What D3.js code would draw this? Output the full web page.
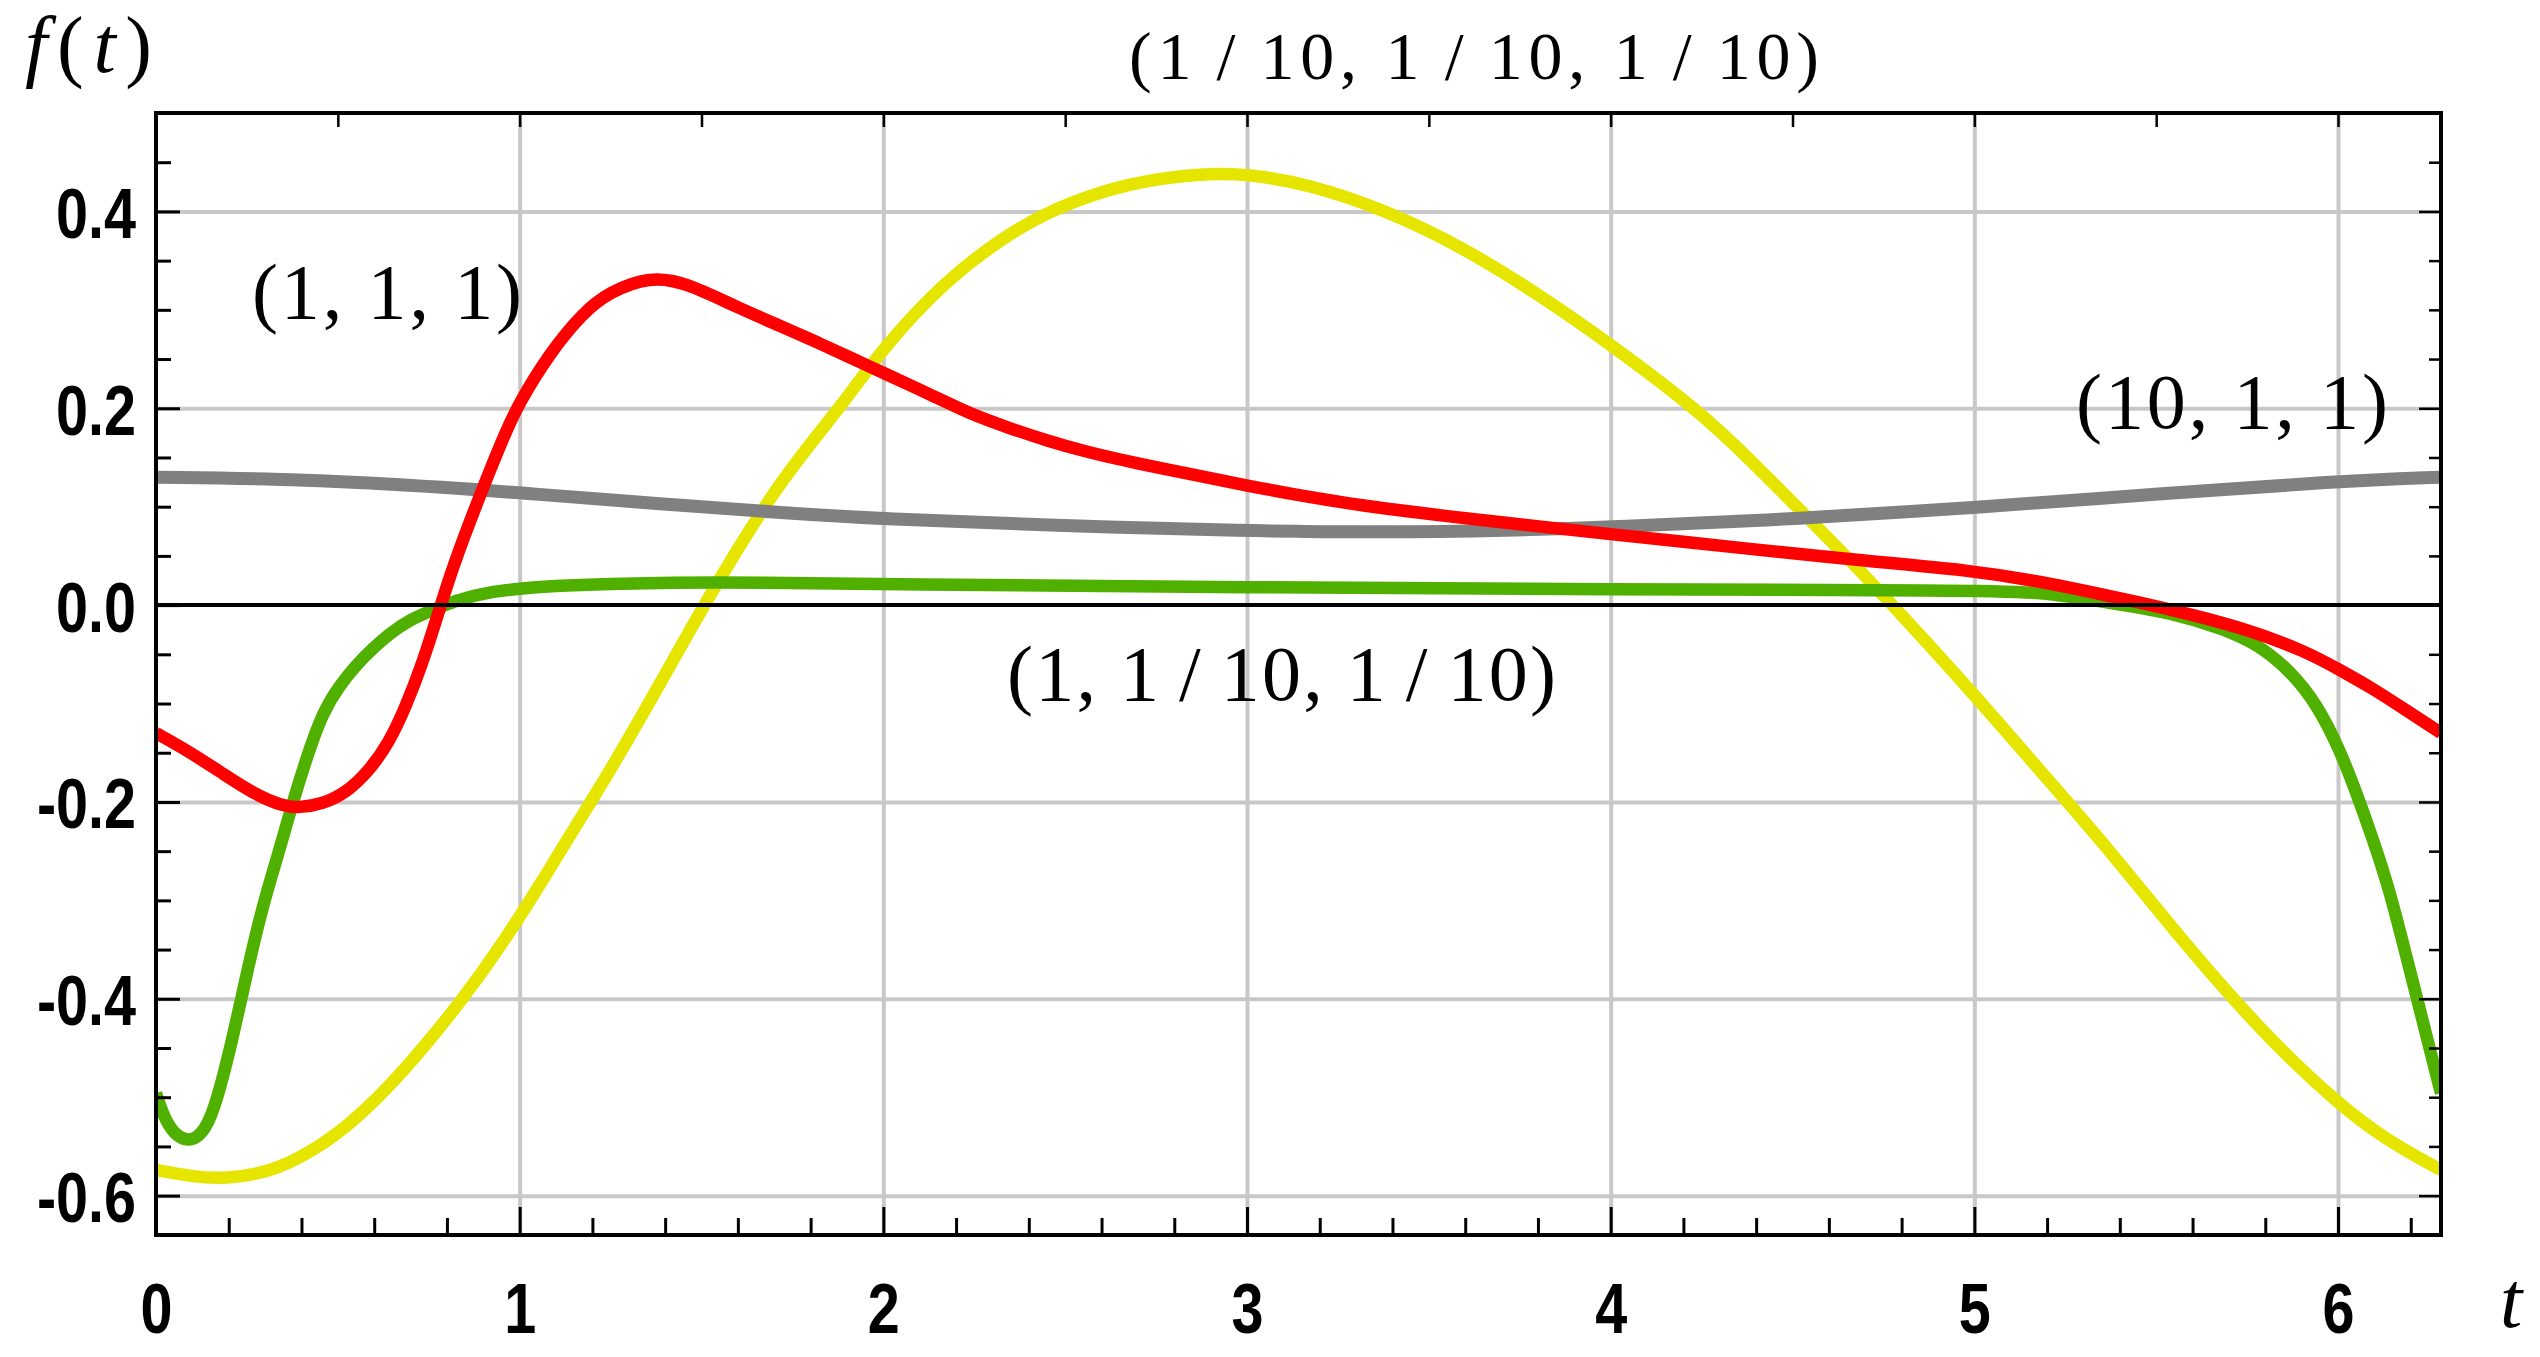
<!DOCTYPE html>
<html>
<head>
<meta charset="utf-8">
<script src="https://d3js.org/d3.v7.min.js"></script>
<style>
  body { margin: 0; background: white; }
  svg { display: block; background: white; }
  .tick-lbl text { font-family: 'Liberation Sans', Arial, sans-serif; font-weight: bold; font-size: 71px; fill: black; }
  .lbl { font-family: 'Liberation Serif', 'Times New Roman', serif; fill: black; }
</style>
</head>
<body>
<svg id="chart" width="2540" height="1357"></svg>
<script>
// series: t, f(t)
var redT   = [0, 0.092, 0.183, 0.275, 0.348, 0.394, 0.458, 0.522, 0.587, 0.642, 0.687, 0.733, 0.779, 0.816, 0.896, 0.966, 1.0, 1.078, 1.176, 1.246, 1.358, 1.456, 1.595, 1.714, 1.819, 1.924, 2.0, 2.135, 2.24, 2.345, 2.451, 2.556, 2.661, 2.766, 2.872, 3.0, 3.135, 3.364, 3.727, 4.0, 4.388, 4.668, 5.0, 5.18, 5.363, 5.547, 5.73, 5.913, 6.005, 6.097, 6.188, 6.2832];
var redV   = [-0.13, -0.149, -0.171, -0.193, -0.204, -0.206, -0.202, -0.191, -0.168, -0.139, -0.103, -0.059, -0.005, 0.039, 0.117, 0.18, 0.206, 0.254, 0.298, 0.318, 0.334, 0.328, 0.303, 0.284, 0.267, 0.249, 0.236, 0.213, 0.194, 0.18, 0.167, 0.156, 0.147, 0.139, 0.131, 0.1215, 0.112, 0.098, 0.083, 0.072, 0.057, 0.046, 0.035, 0.024, 0.01, -0.005, -0.022, -0.047, -0.066, -0.085, -0.107, -0.13];

var grayT  = [0, 0.406, 0.826, 1.0, 1.386, 1.714, 2.0, 2.466, 3.0, 3.364, 3.727, 4.0, 4.528, 5.0, 5.508, 6.0, 6.2832];
var grayV  = [0.13, 0.128, 0.119, 0.114, 0.103, 0.094, 0.0874, 0.081, 0.0752, 0.0739, 0.076, 0.079, 0.088, 0.099, 0.113, 0.126, 0.13];

var greenT = [0, 0.032, 0.089, 0.137, 0.168, 0.21, 0.253, 0.295, 0.337, 0.367, 0.412, 0.458, 0.504, 0.55, 0.596, 0.642, 0.697, 0.761, 0.825, 0.917, 1.008, 1.1, 1.386, 1.666, 2.0, 3.0, 4.0, 5.0, 5.18, 5.363, 5.547, 5.684, 5.776, 5.867, 5.941, 6.005, 6.051, 6.097, 6.142, 6.188, 6.2832];
var greenV = [-0.496, -0.532, -0.548, -0.534, -0.503, -0.442, -0.368, -0.303, -0.252, -0.212, -0.157, -0.109, -0.082, -0.061, -0.044, -0.029, -0.015, -0.005, 0.005, 0.0135, 0.017, 0.02, 0.023, 0.023, 0.021, 0.018, 0.016, 0.015, 0.0135, 0.003, -0.008, -0.024, -0.039, -0.066, -0.1, -0.147, -0.191, -0.239, -0.29, -0.357, -0.496];

var yellowT = [0, 0.105, 0.189, 0.316, 0.421, 0.526, 0.632, 0.737, 0.842, 0.947, 1.053, 1.158, 1.246, 1.386, 1.526, 1.714, 1.872, 2.0, 2.166, 2.326, 2.466, 2.676, 2.887, 3.0, 3.167, 3.377, 3.587, 3.797, 4.0, 4.248, 4.388, 4.528, 4.668, 4.808, 5.0, 5.18, 5.368, 5.578, 5.789, 6.0, 6.139, 6.2832];
var yellowV = [-0.574, -0.581, -0.583, -0.576, -0.557, -0.53, -0.493, -0.449, -0.401, -0.347, -0.286, -0.222, -0.17, -0.08, 0.013, 0.126, 0.196, 0.262, 0.328, 0.373, 0.403, 0.43, 0.439, 0.438, 0.428, 0.402, 0.365, 0.317, 0.265, 0.196, 0.146, 0.094, 0.042, -0.013, -0.091, -0.168, -0.247, -0.344, -0.433, -0.507, -0.545, -0.574];

var xTicks = [0, 1, 2, 3, 4, 5, 6];
var yTicks = [-0.6, -0.4, -0.2, 0.0, 0.2, 0.4];

var svg = d3.select("#chart");
var mLeft = 156, mRight = 2441, mTop = 113, mBottom = 1235;

var x = d3.scaleLinear().domain([0, 2 * Math.PI]).range([mLeft, mRight]);
var y = d3.scaleLinear().domain([-0.64, 0.5]).range([mBottom, mTop]);

var minorX = d3.range(0, 6.3, 0.2).filter(function (d) { return Math.abs(d - Math.round(d)) > 0.01; });
var minorY = d3.range(-0.6, 0.46, 0.05).filter(function (d) { return Math.abs(d * 5 - Math.round(d * 5)) > 0.01; });
var topTicks = d3.range(0.5, 6.3, 0.5);

// grid
svg.append("g").attr("transform", "translate(0," + mBottom + ")")
  .call(d3.axisBottom(x).tickValues(xTicks.slice(1)).tickSize(-(mBottom - mTop)).tickFormat(""))
  .call(function (g) { g.select(".domain").remove(); g.selectAll("line").attr("stroke", "#c8c8c8").attr("stroke-width", 4); });
svg.append("g").attr("transform", "translate(" + mLeft + ",0)")
  .call(d3.axisLeft(y).tickValues(yTicks.filter(function (d) { return d !== 0; })).tickSize(-(mRight - mLeft)).tickFormat(""))
  .call(function (g) { g.select(".domain").remove(); g.selectAll("line").attr("stroke", "#c8c8c8").attr("stroke-width", 4); });

// curves
svg.append("clipPath").attr("id", "clip").append("rect")
  .attr("x", mLeft).attr("y", mTop).attr("width", mRight - mLeft).attr("height", mBottom - mTop);

var line = d3.line()
  .x(function (d) { return x(d[0]); })
  .y(function (d) { return y(d[1]); })
  .curve(d3.curveBasis);

function series(ts, vs) { return ts.map(function (t, i) { return [t, vs[i]]; }); }

var curves = svg.append("g").attr("clip-path", "url(#clip)");
curves.append("path").datum(series(yellowT, yellowV)).attr("d", line)
  .attr("fill", "none").attr("stroke", "#e5e500").attr("stroke-width", 12.5);
curves.append("path").datum(series(greenT, greenV)).attr("d", line)
  .attr("fill", "none").attr("stroke", "#50b000").attr("stroke-width", 12.5);
curves.append("path").datum(series(grayT, grayV)).attr("d", line)
  .attr("fill", "none").attr("stroke", "#808080").attr("stroke-width", 13);
curves.append("path").datum(series(redT, redV)).attr("d", line)
  .attr("fill", "none").attr("stroke", "#ff0000").attr("stroke-width", 12.5);

// zero line
svg.append("line").attr("x1", mLeft).attr("x2", mRight).attr("y1", y(0)).attr("y2", y(0))
  .attr("stroke", "black").attr("stroke-width", 4);

// ticks
function ticks(axis, transform, vals, size, width) {
  svg.append("g").attr("transform", transform)
    .call(axis.tickValues(vals).tickSize(-size).tickFormat(""))
    .call(function (g) { g.select(".domain").remove(); g.selectAll("line").attr("stroke", "black").attr("stroke-width", width); g.selectAll("text").remove(); });
}
ticks(d3.axisLeft(y), "translate(" + mLeft + ",0)", yTicks, 24, 3);
ticks(d3.axisLeft(y), "translate(" + mLeft + ",0)", minorY, 15, 3);
ticks(d3.axisRight(y), "translate(" + mRight + ",0)", yTicks, 22, 2.5);
ticks(d3.axisRight(y), "translate(" + mRight + ",0)", minorY, 12, 2.5);
ticks(d3.axisBottom(x), "translate(0," + mBottom + ")", xTicks, 28, 3);
ticks(d3.axisBottom(x), "translate(0," + mBottom + ")", minorX, 17, 3);
ticks(d3.axisTop(x), "translate(0," + mTop + ")", topTicks, 14, 2.5);

// frame
svg.append("rect").attr("x", mLeft).attr("y", mTop).attr("width", mRight - mLeft).attr("height", mBottom - mTop)
  .attr("fill", "none").attr("stroke", "black").attr("stroke-width", 4);

// tick labels (bold, squeezed to a narrow face)
svg.append("g").attr("class", "tick-lbl").attr("transform", "translate(" + mLeft + ",0)")
  .call(d3.axisLeft(y).tickValues(yTicks).tickSize(0).tickPadding(20)
    .tickFormat(function (d) { return d3.format(".1f")(d).replace("−", "-"); }))
  .call(function (g) {
    g.select(".domain").remove();
    g.selectAll("text").attr("x", 0).attr("y", 0).attr("dy", 26)
      .attr("transform", "translate(-20,0) scale(0.81,1)");
  });
svg.append("g").attr("class", "tick-lbl").attr("transform", "translate(0," + mBottom + ")")
  .call(d3.axisBottom(x).tickValues(xTicks).tickSize(0).tickFormat(d3.format("d")))
  .call(function (g) {
    g.select(".domain").remove();
    g.selectAll("text").attr("y", 0).attr("dy", 0)
      .attr("transform", "translate(0,98) scale(0.81,1)");
  });

// axis labels
var fl = svg.append("text").attr("class", "lbl").attr("x", 25).attr("y", 72).attr("font-size", 80)
  .attr("textLength", 127).attr("lengthAdjust", "spacing");
fl.append("tspan").attr("font-style", "italic").text("f");
fl.append("tspan").text("(");
fl.append("tspan").attr("font-style", "italic").text("t");
fl.append("tspan").text(")");
svg.append("text").attr("class", "lbl").attr("x", 2500).attr("y", 1327).attr("font-size", 80)
  .attr("font-style", "italic").text("t");

// curve labels
function label(txt, px, py, size, len) {
  svg.append("text").attr("class", "lbl").attr("x", px).attr("y", py).attr("font-size", size)
    .attr("textLength", len).attr("lengthAdjust", "spacing").text(txt);
}
label("(1\u2009/\u200910, 1\u2009/\u200910, 1\u2009/\u200910)", 1129, 79, 68, 690);
label("(1, 1, 1)", 252, 318, 78, 270);
label("(10, 1, 1)", 2076, 428, 78, 312);
label("(1, 1\u2009/\u200910, 1\u2009/\u200910)", 1007, 700, 78, 549);
</script>
</body>
</html>
